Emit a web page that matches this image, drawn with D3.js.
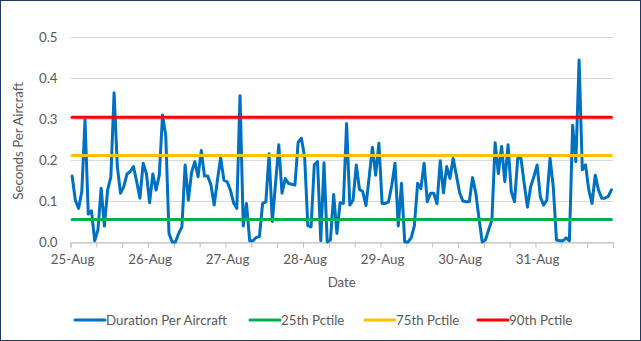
<!DOCTYPE html>
<html><head><meta charset="utf-8">
<script src="https://cdn.jsdelivr.net/npm/d3@7/dist/d3.min.js"></script>
<style>
html,body{margin:0;padding:0;background:#fff;}
svg{display:block;}
text{font-family:Lato,"Liberation Sans",sans-serif;fill:#595959;}
</style></head><body>
<svg id="chart" width="641" height="341"></svg>
<script>
// Day labels (one per 24 hourly categories)
const dayLabels = ["25-Aug","26-Aug","27-Aug","28-Aug","29-Aug","30-Aug","31-Aug"];
// Hourly duration per aircraft, one array per day
const day25 = [0.161,0.102,0.082,0.123,0.298,0.068,0.076,0.003,0.030,0.131,0.039,0.127,0.159,0.364,0.184,0.119,0.135,0.166,0.172,0.184,0.147,0.107,0.192,0.167];
const day26 = [0.096,0.166,0.127,0.163,0.310,0.260,0.021,0.000,0.000,0.021,0.037,0.188,0.102,0.170,0.196,0.159,0.223,0.161,0.161,0.139,0.090,0.151,0.206,0.151];
const day27 = [0.147,0.127,0.096,0.082,0.357,0.039,0.094,0.003,0.003,0.011,0.013,0.094,0.098,0.215,0.050,0.143,0.237,0.119,0.155,0.143,0.141,0.139,0.243,0.253];
const day28 = [0.208,0.040,0.037,0.188,0.196,0.003,0.193,0.000,0.005,0.116,0.021,0.096,0.094,0.289,0.090,0.102,0.188,0.128,0.123,0.089,0.159,0.231,0.163,0.241];
const day29 = [0.094,0.094,0.098,0.139,0.192,0.039,0.143,0.000,0.000,0.010,0.040,0.143,0.130,0.192,0.098,0.119,0.119,0.093,0.198,0.120,0.184,0.155,0.204,0.163];
const day30 = [0.120,0.100,0.098,0.098,0.157,0.120,0.058,0.000,0.005,0.030,0.054,0.242,0.167,0.233,0.147,0.237,0.123,0.098,0.204,0.204,0.143,0.085,0.135,0.159];
const day31 = [0.188,0.110,0.090,0.102,0.204,0.135,0.005,0.003,0.003,0.010,0.003,0.285,0.196,0.444,0.176,0.188,0.127,0.094,0.163,0.127,0.107,0.107,0.111,0.127];
// Percentile reference values
const pctNames = ["25th Pctile","75th Pctile","90th Pctile"];
const pctValues = [0.055,0.211,0.304];
const yTicks = [0,0.1,0.2,0.3,0.4,0.5];

const values = [].concat(day25,day26,day27,day28,day29,day30,day31);
const n = values.length;

const svg = d3.select("#chart");
const mLeft = 70.5, mRight = 613, mTop = 37, mBottom = 242;
const fs = "13.3px";

// border
svg.append("rect").attr("x",0.5).attr("y",0.5).attr("width",640).attr("height",340)
  .attr("fill","#fff").attr("stroke","#1F3864").attr("stroke-width",1);

const x = d3.scaleLinear().domain([0,n]).range([mLeft,mRight]);
const y = d3.scaleLinear().domain([0,0.5]).range([mBottom,mTop]);

// gridlines
svg.append("g").selectAll("line").data(yTicks).join("line")
  .attr("x1",mLeft).attr("x2",mRight)
  .attr("y1",d=>Math.round(y(d))+0.5).attr("y2",d=>Math.round(y(d))+0.5)
  .attr("stroke","#d9d9d9").attr("stroke-width",1);

// y axis labels
const yAxis = d3.axisLeft(y).tickValues(yTicks).tickFormat(d3.format(".1f")).tickSize(0).tickPadding(13);
const gy = svg.append("g").attr("transform",`translate(${mLeft},0)`).call(yAxis);
gy.select(".domain").remove();
gy.selectAll("text").style("font-size",fs).attr("fill","#595959").style("font-family","Lato,'Liberation Sans',sans-serif");

// x axis: tick marks every 8 hours
const tickMarks = d3.range(0,n+1,8);
const xAxisTicks = d3.axisBottom(x).tickValues(tickMarks).tickFormat("").tickSizeOuter(0).tickSize(5);
const gx = svg.append("g").attr("transform",`translate(0,${Math.round(mBottom)+0.5})`).call(xAxisTicks);
gx.select(".domain").attr("stroke","#bfbfbf");
gx.selectAll(".tick line").attr("stroke","#bfbfbf");

// x labels: one per day, centered on first hourly category
const labelPos = dayLabels.map((d,i)=>i*24+0.5);
const xAxisLabels = d3.axisBottom(x).tickValues(labelPos).tickFormat((d,i)=>dayLabels[i]).tickSize(0).tickPadding(13);
const gl = svg.append("g").attr("transform",`translate(0,${mBottom})`).call(xAxisLabels);
gl.select(".domain").remove();
gl.selectAll("text").style("font-size",fs).attr("fill","#595959").style("font-family","Lato,'Liberation Sans',sans-serif");

// axis titles
svg.append("text").attr("x",(mLeft+mRight)/2).attr("y",287).attr("text-anchor","middle")
  .style("font-size",fs).text("Date");
svg.append("text").attr("transform",`translate(23,141) rotate(-90)`).attr("text-anchor","middle")
  .style("font-size",fs).text("Seconds Per Aircraft");

// series
const colors = {blue:"#0070C0", green:"#00B050", yellow:"#FFC000", red:"#FF0000"};
const pctColors = [colors.green, colors.yellow, colors.red];

const line = d3.line().x((d,i)=>x(i+0.5)).y(d=>y(d));
svg.append("path").datum(values).attr("d",line).attr("fill","none")
  .attr("stroke",colors.blue).attr("stroke-width",3).attr("stroke-linejoin","round").attr("stroke-linecap","round");

pctValues.forEach((v,k)=>{
  svg.append("path").datum(d3.range(n).map(()=>v)).attr("d",line).attr("fill","none")
    .attr("stroke",pctColors[k]).attr("stroke-width",3).attr("stroke-linecap","round");
});

// legend
const legendItems = [
  {name:"Duration Per Aircraft", color:colors.blue, x:75},
  {name:pctNames[0], color:pctColors[0], x:250},
  {name:pctNames[1], color:pctColors[1], x:365},
  {name:pctNames[2], color:pctColors[2], x:478}
];
const lg = svg.append("g");
legendItems.forEach(it=>{
  lg.append("line").attr("x1",it.x).attr("x2",it.x+30).attr("y1",320).attr("y2",320)
    .attr("stroke",it.color).attr("stroke-width",3).attr("stroke-linecap","round");
  lg.append("text").attr("x",it.x+31).attr("y",324.5).style("font-size",fs).text(it.name);
});
</script>
</body></html>
